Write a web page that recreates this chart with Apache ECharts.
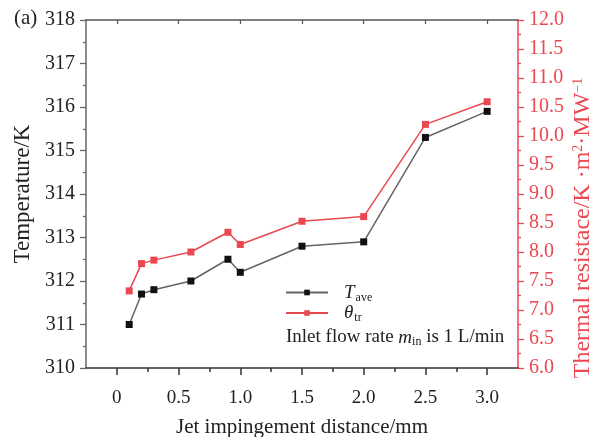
<!DOCTYPE html>
<html>
<head>
<meta charset="utf-8">
<script src="https://cdn.jsdelivr.net/npm/echarts@6/dist/echarts.min.js"></script>
<style>html,body{margin:0;padding:0;background:#fff}#c{width:599px;height:437px}</style>
</head>
<body>
<div id="c"></div>
<script>
const distance = [0.1, 0.2, 0.3, 0.6, 0.9, 1.0, 1.5, 2.0, 2.5, 3.0];
const tAve = [311.0, 311.7, 311.8, 312.0, 312.5, 312.2, 312.8, 312.9, 315.3, 315.9];
const thetaTr = [7.33, 7.80, 7.86, 8.00, 8.34, 8.13, 8.53, 8.61, 10.20, 10.59];
const xMajorTicks = [0, 0.5, 1.0, 1.5, 2.0, 2.5, 3.0];
const xMinorTicks = [0.25, 0.75, 1.25, 1.75, 2.25, 2.75];

const FONT = '"Liberation Serif", "Times New Roman", serif';
const RED = '#ea4850';
const AXIS_GRAY = '#6f6565';

const chart = echarts.init(document.getElementById('c'));
const pairs = (ys) => distance.map((x, i) => [x, ys[i]]);

chart.setOption({
  animation: false,
  textStyle: { fontFamily: FONT },
  grid: { left: 86, right: 81, top: 20, bottom: 69, containLabel: false, outerBoundsMode: 'none' },
  xAxis: [
    {
      type: 'value', position: 'bottom', min: -0.25, max: 3.25,
      axisLine: { show: true, onZero: false, lineStyle: { color: '#333', width: 1.5 } },
      axisTick: { show: true, customValues: xMajorTicks, length: 7, lineStyle: { color: '#333', width: 1.5 } },
      axisLabel: {
        show: true, customValues: xMajorTicks, margin: 21,
        fontFamily: FONT, fontSize: 19, color: '#222',
        formatter: v => (v === 0 ? '0' : v.toFixed(1))
      },
      splitLine: { show: false },
      name: 'Jet impingement distance/mm', nameLocation: 'middle', nameGap: 49,
      nameTextStyle: { fontFamily: FONT, fontSize: 21, color: '#222' }
    },
    {
      type: 'value', position: 'bottom', min: -0.25, max: 3.25,
      axisLine: { show: false, onZero: false },
      axisTick: { show: true, customValues: xMinorTicks, length: 4, lineStyle: { color: '#333', width: 1.5 } },
      axisLabel: { show: false },
      splitLine: { show: false }
    },
    {
      type: 'value', position: 'top', min: -0.25, max: 3.25,
      axisLine: { show: true, onZero: false, lineStyle: { color: '#555', width: 1.5 } },
      axisTick: { show: true, inside: true, customValues: xMajorTicks, length: 4, lineStyle: { color: '#555', width: 1.2 } },
      axisLabel: { show: false },
      splitLine: { show: false }
    }
  ],
  yAxis: [
    {
      type: 'value', position: 'left', min: 310, max: 318, interval: 1,
      axisLine: { show: true, onZero: false, lineStyle: { color: AXIS_GRAY, width: 1.5 } },
      axisTick: { show: true, length: 6, lineStyle: { color: AXIS_GRAY, width: 1.3 } },
      minorTick: { show: true, splitNumber: 2, length: 3, lineStyle: { color: AXIS_GRAY, width: 1.3 } },
      axisLabel: { fontFamily: FONT, fontSize: 20, color: '#222', margin: 11 },
      splitLine: { show: false },
      name: 'Temperature/K', nameLocation: 'middle', nameGap: 52,
      nameTextStyle: { fontFamily: FONT, fontSize: 23, color: '#222' }
    },
    {
      type: 'value', position: 'right', min: 6, max: 12, interval: 0.5,
      axisLine: { show: true, onZero: false, lineStyle: { color: RED, width: 1.5 } },
      axisTick: { show: true, length: 6, lineStyle: { color: RED, width: 1.3 } },
      minorTick: { show: true, splitNumber: 2, length: 3, lineStyle: { color: RED, width: 1.3 } },
      axisLabel: { fontFamily: FONT, fontSize: 20, color: RED, margin: 11,
        formatter: v => v.toFixed(1) },
      splitLine: { show: false }
    }
  ],
  legend: {
    orient: 'vertical', left: 280, top: 278, itemGap: 0,
    itemWidth: 42, itemHeight: 7,
    data: ['T_ave', 'theta_tr'],
    formatter: n => (n === 'T_ave' ? '{it|T}{sub|ave}' : '{it|θ}{sub|tr}'),
    textStyle: {
      fontFamily: FONT, fontSize: 19, color: '#222', padding: [0, 0, 0, 11],
      rich: {
        it: { fontFamily: FONT, fontStyle: 'italic', fontSize: 19, color: '#222', height: 22 },
        sub: { fontFamily: FONT, fontSize: 12, color: '#222', verticalAlign: 'bottom', padding: [8, 0, 0, 1] }
      }
    }
  },
  graphic: [
    {
      type: 'text', left: 14, top: 8,
      style: { text: '(a)', fontFamily: FONT, fontSize: 21, fill: '#222' }
    },
    {
      type: 'text', left: 286, top: 328,
      style: {
        text: 'Inlet flow rate {it|m}{sub|in} is 1 L/min',
        fontFamily: FONT, fontSize: 19, fill: '#222',
        rich: {
          it: { fontFamily: FONT, fontStyle: 'italic', fontSize: 19, fill: '#222' },
          sub: { fontFamily: FONT, fontSize: 12, fill: '#222', verticalAlign: 'bottom', padding: [9, 0, 0, 0] }
        }
      }
    },
    {
      type: 'text', x: 583, y: 228, rotation: Math.PI / 2,
      style: {
        text: 'Thermal resistace/K ·m{sup|2}·MW{sup|−1}',
        fontFamily: FONT, fontSize: 24, fill: RED,
        align: 'center', verticalAlign: 'middle',
        rich: {
          sup: { fontFamily: FONT, fontSize: 14, fill: RED, verticalAlign: 'top', padding: [0, 0, 10, 0] }
        }
      }
    }
  ],
  series: [
    {
      name: 'T_ave', type: 'line', xAxisIndex: 0, yAxisIndex: 0,
      data: pairs(tAve),
      symbol: 'rect', symbolSize: 7,
      lineStyle: { color: '#6a6262', width: 1.5 },
      itemStyle: { color: '#111', borderColor: '#111', borderWidth: 0 }
    },
    {
      name: 'theta_tr', type: 'line', xAxisIndex: 0, yAxisIndex: 1,
      data: pairs(thetaTr),
      symbol: 'rect', symbolSize: 7,
      lineStyle: { color: RED, width: 1.5 },
      itemStyle: { color: RED, borderWidth: 0 }
    }
  ]
});
</script>
</body>
</html>
